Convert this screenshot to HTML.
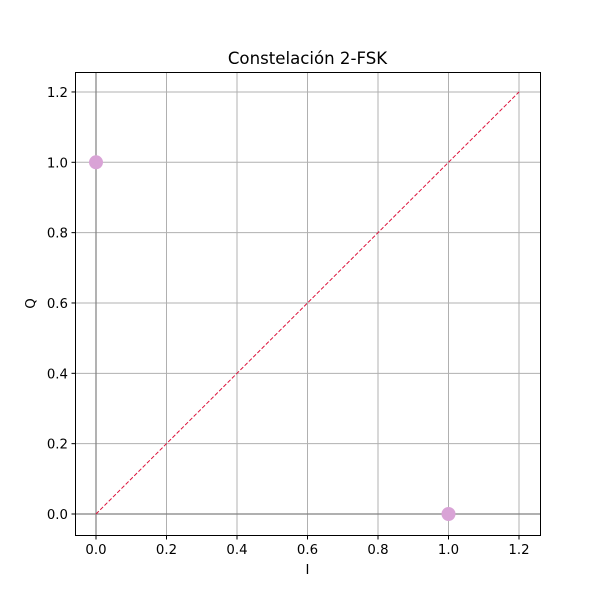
<!DOCTYPE html>
<html><head><meta charset="utf-8"><style>
body{margin:0;background:#fff;}
svg text{font-family:"DejaVu Sans","Liberation Sans",sans-serif;fill:#000;}
</style></head><body>
<svg id="chart" width="600" height="600">
<rect x="0" y="0" width="600" height="600" fill="#fff"/>
<g id="grid"></g><g id="marks"></g><g id="ticks"></g>
<rect x="75.5" y="72.5" width="465" height="463" fill="none" stroke="#000" stroke-width="1"/>
<text x="307.5" y="64" font-size="16.6" text-anchor="middle">Constelación 2-FSK</text>
<text x="307.5" y="574" font-size="13.3" text-anchor="middle">I</text>
<text x="35" y="303.5" font-size="13.3" text-anchor="middle" transform="rotate(-90 35 303.5)">Q</text>
</svg>
<script>
const xTicks=[0,0.2,0.4,0.6,0.8,1.0,1.2];
const yTicks=[0,0.2,0.4,0.6,0.8,1.0,1.2];
const pointsI=[0,1];
const pointsQ=[1,0];
const refLineI=[0,1.2];
const refLineQ=[0,1.2];
const NS='http://www.w3.org/2000/svg';
function sx(v){return 96+v*352.5;}
function sy(v){return 514-v*351.7;}
function mk(tag,attrs,parent){const e=document.createElementNS(NS,tag);for(const k in attrs)e.setAttribute(k,attrs[k]);parent.appendChild(e);return e;}
const grid=document.getElementById('grid'),marks=document.getElementById('marks'),ticks=document.getElementById('ticks');
xTicks.forEach(t=>{
  const l=mk('line',{x1:sx(t),x2:sx(t),y1:72.5,y2:535.5,stroke:'#b0b0b0','stroke-width':1},grid);
  
  
  mk('line',{x1:sx(t),x2:sx(t),y1:535.5,y2:539.5,stroke:'#000'},ticks);
  const tx=mk('text',{x:sx(t),y:554,'font-size':13.3,'text-anchor':'middle'},ticks);
  tx.textContent=t.toFixed(1);
  
  
});
yTicks.forEach(t=>{
  const l=mk('line',{x1:75.5,x2:540.5,y1:sy(t),y2:sy(t),stroke:'#b0b0b0','stroke-width':1},grid);
  
  
  mk('line',{x1:71.5,x2:75.5,y1:sy(t),y2:sy(t),stroke:'#000'},ticks);
  const tx=mk('text',{x:68,y:sy(t)+5,'font-size':13.3,'text-anchor':'end'},ticks);
  tx.textContent=t.toFixed(1);
  
  
});
const ax=mk('line',{x1:sx(0),x2:sx(0),y1:72.5,y2:535.5,stroke:'#808080','stroke-width':1.2},marks);


const ay=mk('line',{x1:75.5,x2:540.5,y1:sy(0),y2:sy(0),stroke:'#808080','stroke-width':1.2},marks);


const rl=mk('line',{x1:sx(refLineI[0]),y1:sy(refLineQ[0]),x2:sx(refLineI[1]),y2:sy(refLineQ[1]),stroke:'#dc143c','stroke-width':1,'stroke-dasharray':'4,2'},marks);


pointsI.forEach((v,i)=>{
  const c=mk('circle',{cx:sx(v),cy:sy(pointsQ[i]),r:7,fill:'#d9a3d6'},marks);
  
  
});
</script>
</body></html>
